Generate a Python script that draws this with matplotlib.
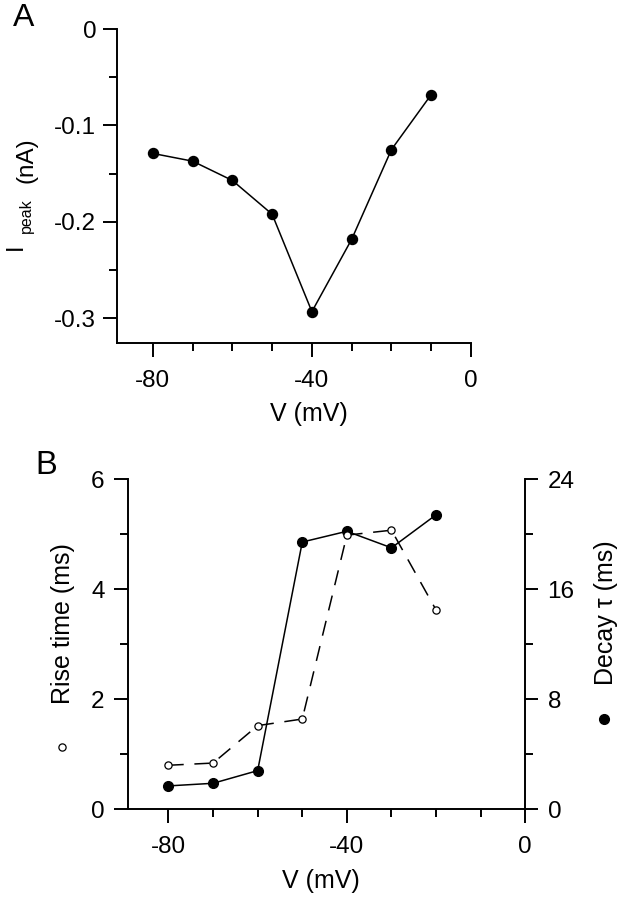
import matplotlib
matplotlib.use("Agg")
import matplotlib.pyplot as plt
from matplotlib.lines import Line2D
from matplotlib.ticker import MultipleLocator

plt.rcParams['font.family'] = ['Liberation Sans', 'DejaVu Sans']

# ---- data ----
v_a = [-80, -70, -60, -50, -40, -30, -20, -10]
i_peak = [-0.129, -0.137, -0.157, -0.192, -0.293, -0.218, -0.125, -0.068]

v_b = [-80, -70, -60, -50, -40, -30, -20]
rise_time = [0.80, 0.84, 1.52, 1.64, 4.98, 5.07, 3.62]
decay_tau = [1.70, 1.89, 2.81, 19.42, 20.2, 19.0, 21.4]

W, H = 624, 899
fig = plt.figure(figsize=(W / 100, H / 100), dpi=100)


def fx(px):
    return px / W


def fy(py):
    return 1 - py / H


TICK_FS = 17.5
LAB_FS = 18
SPINE_LW = 1.4
LINE_LW = 1.1


def style_axis(ax, sides):
    for s in ['top', 'right', 'left', 'bottom']:
        ax.spines[s].set_visible(s in sides)
        ax.spines[s].set_linewidth(SPINE_LW)
    ax.tick_params(which='major', direction='out', length=10, width=SPINE_LW,
                   labelsize=TICK_FS)
    ax.tick_params(which='minor', direction='out', length=6, width=SPINE_LW)


# ---- Panel A ----
axA = fig.add_axes([fx(117), fy(342.5), (471 - 117) / W, (342.5 - 29) / H])
axA.plot(v_a, i_peak, '-', color='black', lw=LINE_LW, marker='o',
         markersize=7.2, markerfacecolor='black', markeredgecolor='black',
         clip_on=False)
axA.set_xlim(-89, 0)
axA.set_ylim(-0.325, 0)
style_axis(axA, ['left', 'bottom'])
axA.xaxis.set_minor_locator(MultipleLocator(10))
axA.yaxis.set_minor_locator(MultipleLocator(0.05))
axA.set_xticks([-80, -40, 0])
axA.set_xticklabels(['-80', '-40', '0'])
axA.set_yticks([0, -0.1, -0.2, -0.3])
axA.set_yticklabels(['0', '-0.1', '-0.2', '-0.3'])
axA.tick_params(axis='x', which='major', pad=9.5)
axA.tick_params(axis='y', which='major', pad=5)

fig.text(fx(309), fy(414), 'V (mV)', fontsize=LAB_FS, ha='center', va='center')
fig.text(fx(15.5), fy(247), 'I', fontsize=17, rotation=90, ha='center', va='center')
fig.text(fx(26.5), fy(216), 'peak', fontsize=11.5, rotation=90, ha='center', va='center')
fig.text(fx(26.7), fy(160), '(nA)', fontsize=17.5, rotation=90, ha='center', va='center')
fig.text(fx(24), fy(18.5), 'A', fontsize=23, ha='center', va='center')

# ---- Panel B ----
axB = fig.add_axes([fx(128.3), fy(809.3), (525.3 - 128.3) / W, (809.3 - 479) / H])
axB2 = axB.twinx()

axB2.plot(v_b, decay_tau, '-', color='black', lw=LINE_LW, marker='o',
          markersize=7, markerfacecolor='black', markeredgecolor='black',
          clip_on=False, zorder=2)
axB.plot(v_b, rise_time, color='black', lw=LINE_LW, dashes=(10, 7), marker='o',
         markersize=5.2, markerfacecolor='white', markeredgecolor='black',
         markeredgewidth=0.9, clip_on=False, zorder=3)
axB.set_zorder(axB2.get_zorder() + 1)
axB.patch.set_visible(False)

axB.set_xlim(-89, 0)
axB.set_ylim(0, 6)
axB2.set_ylim(0, 24)
style_axis(axB, ['left', 'bottom'])
style_axis(axB2, ['right'])
axB2.tick_params(which='major', length=9)
axB.set_xticks([-80, -40, 0])
axB.set_xticklabels(['-80', '-40', '0'])
axB.xaxis.set_minor_locator(MultipleLocator(10))
axB.set_yticks([0, 2, 4, 6])
axB.yaxis.set_minor_locator(MultipleLocator(1))
axB2.set_yticks([0, 8, 16, 24])
axB2.yaxis.set_minor_locator(MultipleLocator(4))
axB.tick_params(axis='x', which='major', pad=9)
axB.tick_params(axis='y', which='major', pad=7)
axB2.tick_params(axis='y', which='major', pad=7)

fig.text(fx(321), fy(881), 'V (mV)', fontsize=LAB_FS, ha='center', va='center')
fig.text(fx(63), fy(624), 'Rise time (ms)', fontsize=LAB_FS, rotation=90,
         ha='center', va='center')
fig.text(fx(606), fy(613), 'Decay \u03c4 (ms)', fontsize=LAB_FS, rotation=90,
         ha='center', va='center')
fig.lines.append(Line2D([fx(61.7)], [fy(746.7)], transform=fig.transFigure,
                        marker='o', markersize=5.2, markerfacecolor='white',
                        markeredgecolor='black', markeredgewidth=0.9, linestyle='none'))
fig.lines.append(Line2D([fx(604)], [fy(719.3)], transform=fig.transFigure,
                        marker='o', markersize=7, markerfacecolor='black',
                        markeredgecolor='black', linestyle='none'))
fig.text(fx(45.8), fy(465), 'B', fontsize=23.5, ha='center', va='center')

fig.savefig('out.png', dpi=100)
